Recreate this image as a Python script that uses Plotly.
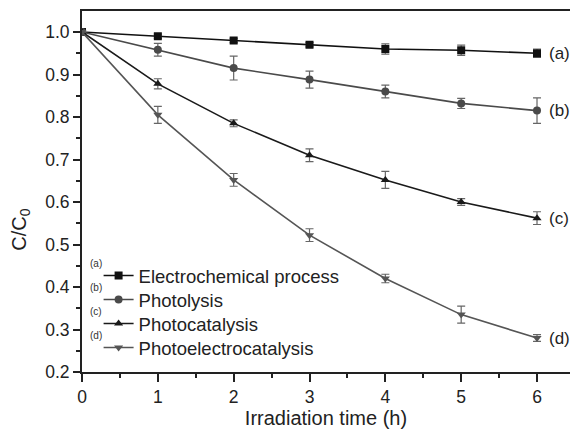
import plotly.graph_objects as go

time_h = [0, 1, 2, 3, 4, 5, 6]
names = ["Electrochemical process", "Photolysis", "Photocatalysis", "Photoelectrocatalysis"]
tags = ["(a)", "(b)", "(c)", "(d)"]
vals_a = [1.0, 0.990, 0.980, 0.970, 0.960, 0.957, 0.950]
vals_b = [1.0, 0.958, 0.915, 0.888, 0.860, 0.832, 0.815]
vals_c = [1.0, 0.878, 0.785, 0.710, 0.652, 0.600, 0.562]
vals_d = [1.0, 0.805, 0.652, 0.522, 0.420, 0.335, 0.280]
err_a = [0.0, 0.005, 0.005, 0.005, 0.012, 0.012, 0.010]
err_b = [0.0, 0.015, 0.028, 0.020, 0.015, 0.012, 0.030]
err_c = [0.0, 0.012, 0.008, 0.015, 0.020, 0.008, 0.015]
err_d = [0.0, 0.020, 0.015, 0.015, 0.010, 0.020, 0.008]

series = [vals_a, vals_b, vals_c, vals_d]
errors = [err_a, err_b, err_c, err_d]
symbols = ["square", "circle", "triangle-up", "triangle-down"]
colors = ["#111111", "#4a4a4a", "#1a1a1a", "#555555"]
legend_ids = ["legend", "legend2", "legend3", "legend4"]
legend_y = [0.2659, 0.1994, 0.1330, 0.0665]

fig = go.Figure()
for name, y, e, sym, col, lid in zip(names, series, errors, symbols, colors, legend_ids):
    fig.add_trace(go.Scatter(
        x=time_h, y=y, name=name, mode="lines+markers", legend=lid,
        line=dict(color=col, width=1.6),
        marker=dict(symbol=sym, size=8, color=col),
        error_y=dict(type="data", array=e, visible=True, color="#666666",
                     thickness=1.2, width=4),
    ))

for tag, y in zip(tags, series):
    fig.add_annotation(x=time_h[-1], y=y[-1], text=tag, xref="x", yref="y",
                       xanchor="left", xshift=10, showarrow=False,
                       font=dict(size=17, color="#222222"))

# small tags beside legend entries
for tag, ly in zip(tags, legend_y):
    fig.add_annotation(x=0.012, y=ly + 0.014, xref="paper", yref="paper", text=tag,
                       showarrow=False, xanchor="left", yanchor="bottom",
                       font=dict(size=10, color="#333333"))

# y-axis title
fig.add_annotation(x=-0.125, y=0.394, xref="paper", yref="paper",
                   text="C/C<sub>0</sub>", textangle=-90, showarrow=False,
                   xanchor="center", yanchor="middle",
                   font=dict(size=20, color="#222222"))

legend_common = dict(x=0.034, xanchor="left", yanchor="middle",
                     bgcolor="rgba(0,0,0,0)", font=dict(size=18.5, color="#222222"),
                     itemwidth=30)

fig.update_layout(
    width=570, height=429,
    margin=dict(l=82, r=0, t=11, b=57),
    paper_bgcolor="white", plot_bgcolor="white",
    font=dict(family="Liberation Sans, Arial, sans-serif", color="#222222"),
    showlegend=True,
    legend=dict(y=legend_y[0], **legend_common),
    legend2=dict(y=legend_y[1], **legend_common),
    legend3=dict(y=legend_y[2], **legend_common),
    legend4=dict(y=legend_y[3], **legend_common),
)
fig.update_xaxes(
    range=[0, 6.435], tickmode="array", tickvals=[0, 1, 2, 3, 4, 5, 6],
    ticks="outside", ticklen=8, tickwidth=1.5, tickcolor="#222",
    showline=True, linecolor="#222", linewidth=2, mirror=True,
    showgrid=False, zeroline=False,
    tickfont=dict(size=17.5),
    minor=dict(tickvals=[0.5, 1.5, 2.5, 3.5, 4.5, 5.5], ticks="outside",
               ticklen=4, tickwidth=1.5, tickcolor="#222"),
    title=dict(text="Irradiation time (h)", font=dict(size=20), standoff=2),
)
fig.update_yaxes(
    range=[0.2, 1.0494], tickmode="array",
    tickvals=[0.2, 0.3, 0.4, 0.5, 0.6, 0.7, 0.8, 0.9, 1.0],
    ticktext=["0.2", "0.3", "0.4", "0.5", "0.6", "0.7", "0.8", "0.9", "1.0"],
    ticks="outside", ticklen=7, tickwidth=1.5, tickcolor="#222",
    showline=True, linecolor="#222", linewidth=2, mirror=False,
    showgrid=False, zeroline=False,
    tickfont=dict(size=17.5),
    minor=dict(tickvals=[0.25, 0.35, 0.45, 0.55, 0.65, 0.75, 0.85, 0.95],
               ticks="outside", ticklen=4, tickwidth=1.5, tickcolor="#222"),
)

fig.write_html("out.html")
